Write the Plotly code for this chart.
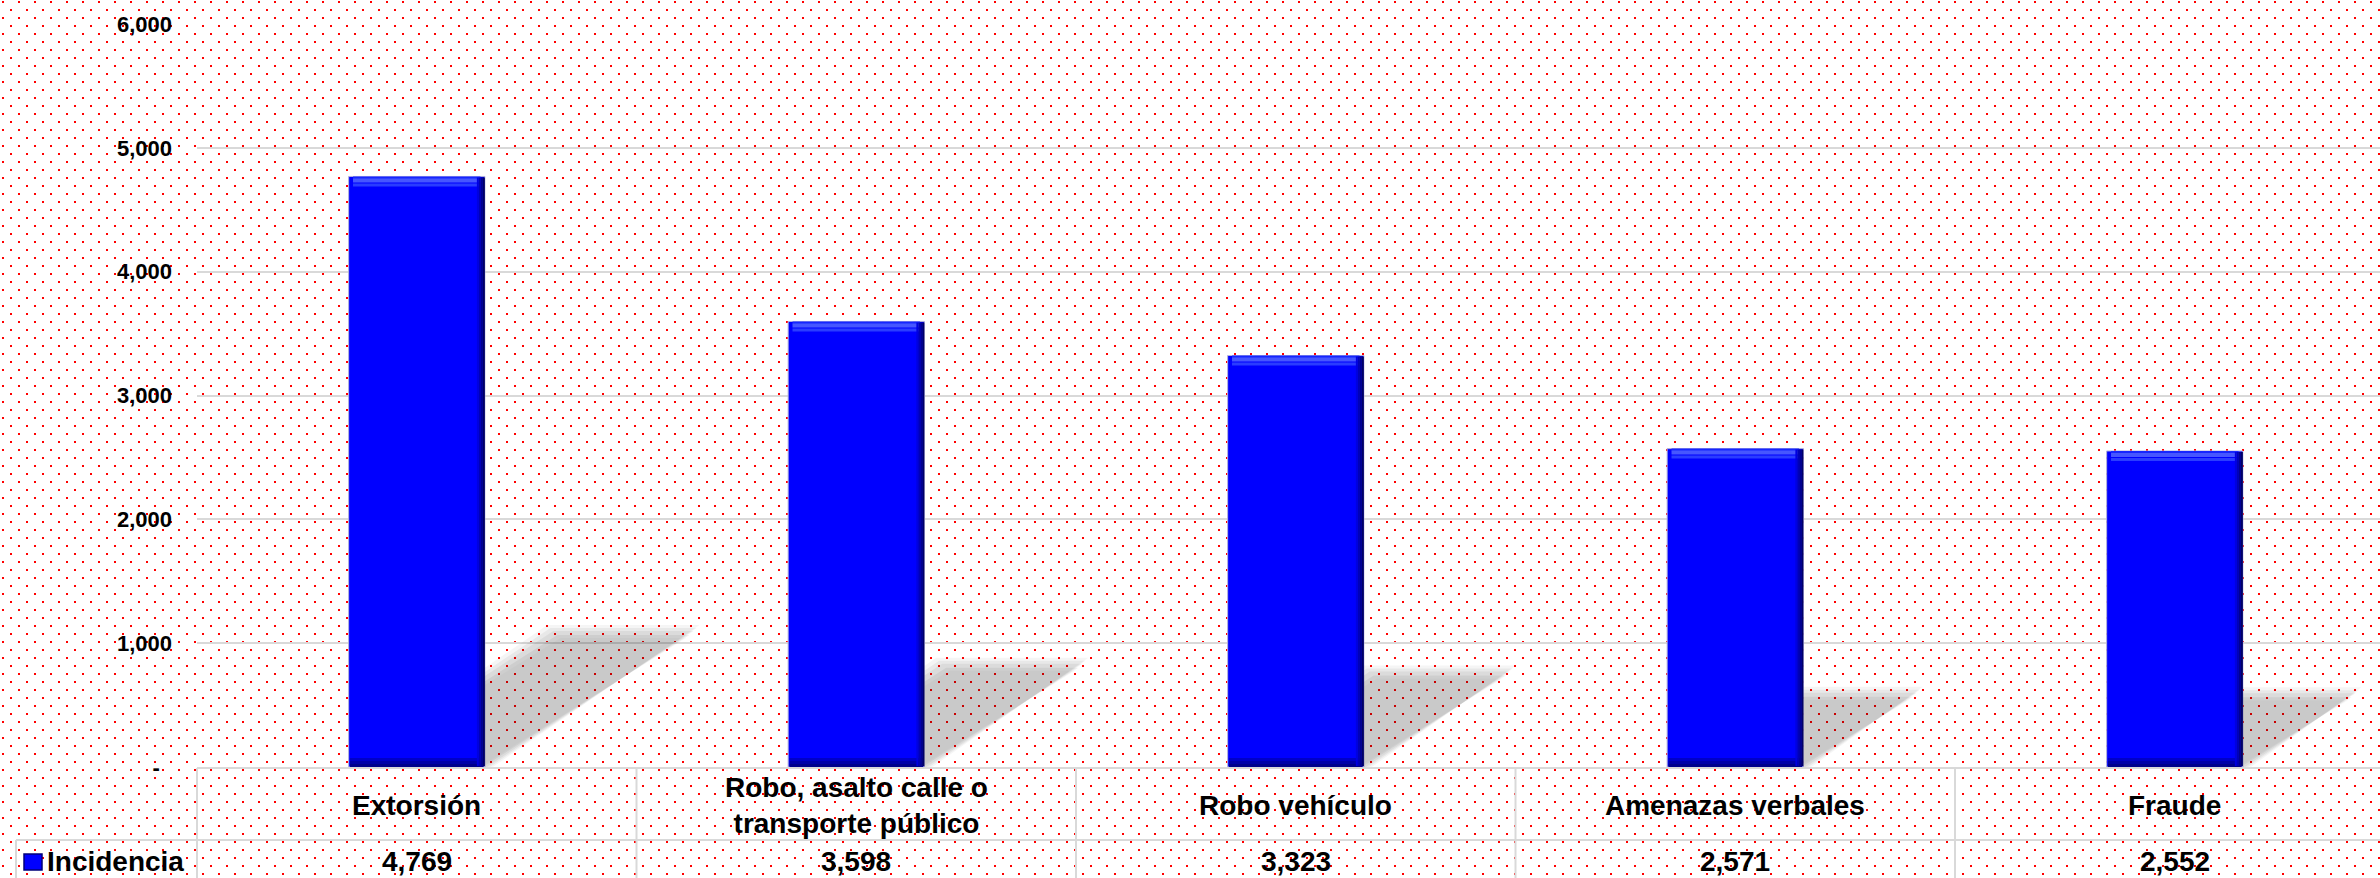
import base64
import plotly.graph_objects as go

# ---------------- data ----------------
categories = ["Extorsión", "Robo, asalto calle o transporte público", "Robo vehículo",
              "Amenazas verbales", "Fraude"]
category_labels = ["Extorsión", "Robo, asalto calle o<br>transporte público", "Robo vehículo",
                   "Amenazas verbales", "Fraude"]
incidencia = [4769, 3598, 3323, 2571, 2552]
series_name = "Incidencia"
y_tickvals = [0, 1000, 2000, 3000, 4000, 5000, 6000]
y_ticktext = [f"{v:,}" if v else "-\u00a0\u00a0" for v in y_tickvals]

# ---------------- layout geometry ----------------
W, H = 2380, 878
ML, MT, MB, MR = 197, 24, 111, 0
PLOT_W = W - ML - MR
PLOT_H = H - MT - MB
CAT_PX = 439.5
x_range = [-0.5, -0.5 + PLOT_W / CAT_PX]
y_range = [0, 6000]
PX_PER_UNIT = PLOT_H / (y_range[1] - y_range[0])
BAR_W = 0.31

FONT = "Liberation Sans, Arial, sans-serif"
GRID = "#d9d9d9"


def pxx(p):
    return (p - ML) / PLOT_W


def pxy(p):
    return (H - MB - p) / PLOT_H


idx = list(range(len(categories)))
fig = go.Figure()

# ---------------- shadows (sheared projection of each bar, visible part only) ----------------
def clip_right(poly, xc):
    out = []
    n = len(poly)
    for i in range(n):
        a, b = poly[i], poly[(i + 1) % n]
        ina, inb = a[0] >= xc, b[0] >= xc
        if ina:
            out.append(a)
        if ina != inb:
            t = (xc - a[0]) / (b[0] - a[0])
            out.append((xc, a[1] + t * (b[1] - a[1])))
    return out


SHEAR_X = 0.35   # horizontal px per px of bar height
SHEAR_Y = 0.227  # vertical px per px of bar height
for d, alpha in [(8, 0.04), (5, 0.05), (2, 0.055), (-2, 0.06), (-5, 0.02)]:
    for i, v in zip(idx, incidencia):
        xl = i - BAR_W / 2
        xr = i + BAR_W / 2
        hpx = v * PX_PER_UNIT
        sx = SHEAR_X * hpx / CAT_PX
        sy = SHEAR_Y * v
        dxd = d / CAT_PX
        dyd = d / PX_PER_UNIT
        poly = [(xl - dxd, 0), (xr + dxd, 0), (xr + sx + dxd, sy + dyd), (xl + sx - dxd, sy + dyd)]
        poly = clip_right(poly, xr)
        xs = [p[0] for p in poly] + [poly[0][0]]
        ys = [max(p[1], 0) for p in poly] + [max(poly[0][1], 0)]
        fig.add_trace(go.Scatter(x=xs, y=ys, mode="lines", fill="toself",
                                 fillcolor=f"rgba(0,0,0,{alpha})", line=dict(width=0),
                                 hoverinfo="skip", showlegend=False))

# ---------------- bars ----------------
fig.add_trace(go.Bar(x=idx, y=incidencia, width=BAR_W, offset=-BAR_W / 2, name=series_name,
                     marker=dict(color="#0000ff", line=dict(color="#b4b4dc", width=1)),
                     showlegend=False, hoverinfo="skip"))

# bevel: top light band
band_u = 1 / PX_PER_UNIT
for k, (c, hpx) in enumerate([("#1626ff", 3), ("#4656ff", 4), ("#2a3cff", 3)]):
    top_off = [3, 6, 10][k]
    fig.add_trace(go.Bar(x=idx, y=[hpx * band_u] * len(idx),
                         base=[v - top_off * band_u for v in incidencia],
                         width=BAR_W - 0.02, offset=-BAR_W / 2 + 0.01,
                         marker=dict(color=c, line=dict(width=0)),
                         showlegend=False, hoverinfo="skip"))
# bevel: bottom dark band
for k, c in enumerate(["#0000c8", "#0000a8", "#00008c"]):
    fig.add_trace(go.Bar(x=idx, y=[3 * band_u] * len(idx), base=[(6 - 3 * k) * band_u] * len(idx),
                         width=BAR_W - 0.006, offset=-BAR_W / 2 + 0.003,
                         marker=dict(color=c, line=dict(width=0)),
                         showlegend=False, hoverinfo="skip"))
# bevel: right dark edge
strip = 2 / CAT_PX
for k, c in enumerate(["#0000e0", "#0000b8", "#000090", "#000066"]):
    fig.add_trace(go.Bar(x=idx, y=[v - 2 * band_u for v in incidencia], base=[1 * band_u] * len(idx),
                         width=strip, offset=BAR_W / 2 - (4 - k) * strip,
                         marker=dict(color=c, line=dict(width=0)),
                         showlegend=False, hoverinfo="skip"))

# ---------------- dotted background ----------------
svg = (f'<svg xmlns="http://www.w3.org/2000/svg" width="{W}" height="{H}">'
       '<defs><pattern id="p" width="16" height="16" patternUnits="userSpaceOnUse">'
       '<rect x="2" y="1" width="2" height="2" fill="#ff0000"/>'
       '<rect x="10" y="9" width="2" height="2" fill="#ff0000"/>'
       '</pattern></defs>'
       f'<rect width="{W}" height="{H}" fill="#ffffff"/>'
       f'<rect width="{W}" height="{H}" fill="url(#p)"/></svg>')
bg_uri = "data:image/svg+xml;base64," + base64.b64encode(svg.encode()).decode()

# ---------------- table lines ----------------
shapes = []
line = dict(color=GRID, width=2)
shapes.append(dict(type="line", xref="paper", yref="paper", x0=pxx(ML), x1=pxx(W), y0=pxy(768), y1=pxy(768), line=line))
shapes.append(dict(type="line", xref="paper", yref="paper", x0=pxx(16), x1=pxx(W), y0=pxy(840), y1=pxy(840), line=line))
shapes.append(dict(type="line", xref="paper", yref="paper", x0=pxx(16), x1=pxx(16), y0=pxy(840), y1=pxy(H + 2), line=line))
for b in range(len(categories)):
    xb = pxx(ML + b * CAT_PX)
    shapes.append(dict(type="line", xref="paper", yref="paper", x0=xb, x1=xb, y0=pxy(768), y1=pxy(H + 2), line=line))
# legend key
shapes.append(dict(type="rect", xref="paper", yref="paper", x0=pxx(24), x1=pxx(42), y0=pxy(870), y1=pxy(854),
                   fillcolor="#0000ff", line=dict(color="#00007a", width=1.5)))

# ---------------- table text ----------------
annotations = []
tfont = dict(family=FONT, size=28, color="#000000", weight="bold")
for i, lab, v in zip(idx, category_labels, incidencia):
    annotations.append(dict(x=i, xref="x", y=pxy(805), yref="paper", text=lab, showarrow=False,
                            xanchor="center", yanchor="middle", font=tfont))
    annotations.append(dict(x=i, xref="x", y=pxy(861), yref="paper", text=f"{v:,}", showarrow=False,
                            xanchor="center", yanchor="middle", font=tfont))
annotations.append(dict(x=pxx(45), xref="paper", y=pxy(861), yref="paper", text=series_name, showarrow=False,
                        xanchor="left", yanchor="middle", font=tfont))

fig.update_layout(
    width=W, height=H,
    margin=dict(l=ML, r=MR, t=MT, b=MB, pad=0),
    paper_bgcolor="#ffffff",
    plot_bgcolor="rgba(0,0,0,0)",
    barmode="overlay",
    showlegend=False,
    images=[dict(source=bg_uri, xref="paper", yref="paper", x=pxx(0), y=pxy(0),
                 sizex=W / PLOT_W, sizey=H / PLOT_H, xanchor="left", yanchor="top",
                 sizing="stretch", layer="below")],
    shapes=shapes,
    annotations=annotations,
    xaxis=dict(range=x_range, showticklabels=False, showgrid=False, zeroline=False,
               showline=False, ticks="", fixedrange=True),
    yaxis=dict(range=y_range, tickvals=y_tickvals, ticktext=y_ticktext,
               showgrid=True, gridcolor=GRID, gridwidth=2, zeroline=False, showline=False,
               ticks="", ticklabelstandoff=24, automargin=False,
               tickfont=dict(family=FONT, size=22, color="#000000", weight="bold")),
)

fig.write_html("out.html", config={"displayModeBar": False},
               post_script="document.body.style.margin='0';document.body.style.overflow='hidden';")
